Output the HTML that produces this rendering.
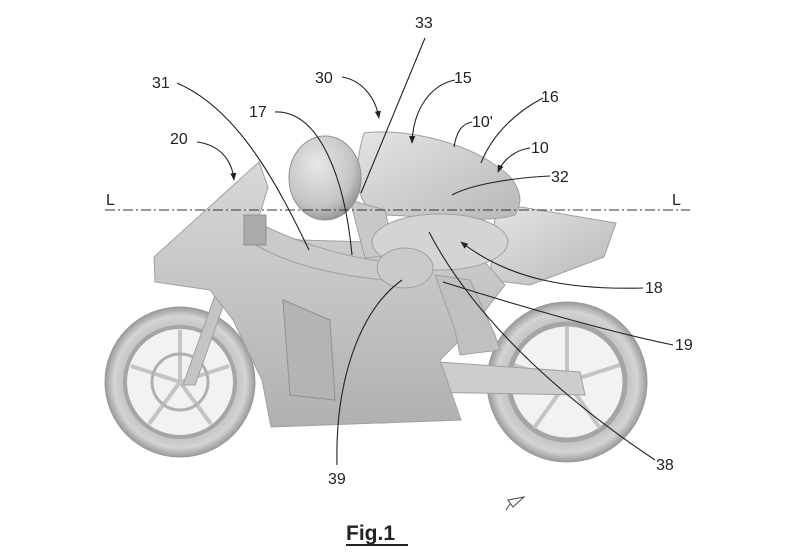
<!DOCTYPE html>
<html><head><meta charset="utf-8"><style>
html,body{margin:0;padding:0;background:#fff;}
svg{display:block;}
text{font-family:"Liberation Sans",sans-serif;font-size:16px;fill:#222;}
</style></head><body>
<svg width="800" height="560" viewBox="0 0 800 560" xmlns="http://www.w3.org/2000/svg">
<defs>
<radialGradient id="g1" cx="40%" cy="35%" r="70%"><stop offset="0" stop-color="#e8e8e8"/><stop offset="0.7" stop-color="#c4c4c4"/><stop offset="1" stop-color="#8f8f8f"/></radialGradient>
<radialGradient id="tire" cx="50%" cy="50%" r="50%"><stop offset="0.7" stop-color="#bdbdbd"/><stop offset="0.88" stop-color="#d4d4d4"/><stop offset="1" stop-color="#9a9a9a"/></radialGradient>
<linearGradient id="g2" x1="0" y1="0" x2="0" y2="1"><stop offset="0" stop-color="#d8d8d8"/><stop offset="1" stop-color="#b0b0b0"/></linearGradient>
<linearGradient id="g3" x1="0" y1="0" x2="1" y2="1"><stop offset="0" stop-color="#e4e4e4"/><stop offset="1" stop-color="#b8b8b8"/></linearGradient>
<marker id="ar" viewBox="0 0 10 10" refX="9" refY="5" markerWidth="7" markerHeight="7" orient="auto"><path d="M0,1 L10,5 L0,9 z" fill="#222"/></marker>
</defs>

<!-- wheels -->
<circle cx="180" cy="382" r="75" fill="url(#tire)" stroke="#999" stroke-width="1"/>
<circle cx="180" cy="382" r="55" fill="#f2f2f2" stroke="#a5a5a5" stroke-width="4"/>
<g stroke="#c4c4c4" stroke-width="4">
<line x1="180" y1="382" x2="180" y2="330"/><line x1="180" y1="382" x2="229" y2="366"/><line x1="180" y1="382" x2="211" y2="424"/><line x1="180" y1="382" x2="149" y2="424"/><line x1="180" y1="382" x2="131" y2="366"/>
</g>
<circle cx="180" cy="382" r="28" fill="none" stroke="#b0b0b0" stroke-width="3"/>
<circle cx="567" cy="382" r="80" fill="url(#tire)" stroke="#999" stroke-width="1"/>
<circle cx="567" cy="382" r="58" fill="#f2f2f2" stroke="#a5a5a5" stroke-width="5"/>
<g stroke="#c4c4c4" stroke-width="4">
<line x1="567" y1="382" x2="567" y2="326"/><line x1="567" y1="382" x2="620" y2="365"/><line x1="567" y1="382" x2="600" y2="428"/><line x1="567" y1="382" x2="534" y2="428"/><line x1="567" y1="382" x2="514" y2="365"/>
</g>
<!-- fork -->
<polygon points="240,225 252,225 195,385 183,385" fill="#c4c4c4" stroke="#a0a0a0"/>
<!-- swingarm -->
<polygon points="410,360 580,372 585,395 420,392" fill="#cdcdcd" stroke="#a0a0a0"/>
<!-- tail -->
<polygon points="495,215 521,207 616,223 604,257 530,285 490,280" fill="url(#g3)" stroke="#a0a0a0"/>
<!-- body -->
<path d="M154,257 L259,162 L268,187 L255,230 L300,240 L470,245 L505,285 L470,330 L440,360 L461,420 L271,427 L262,380 L233,320 L210,290 L155,282 Z" fill="url(#g2)" stroke="#a0a0a0"/>
<polygon points="283,300 330,320 335,400 290,395" fill="#b4b4b4" stroke="#909090"/>
<!-- arm -->
<path d="M254,220 C280,235 330,255 386,262 L386,280 C330,275 280,262 248,240 Z" fill="#cacaca" stroke="#a0a0a0"/>
<rect x="244" y="215" width="22" height="30" fill="#aaa" stroke="#909090"/>
<!-- torso -->
<path d="M364,133 C400,128 460,140 495,165 C520,180 525,200 515,215 C480,225 420,215 380,215 C360,210 350,180 364,133 Z" fill="url(#g3)" stroke="#a0a0a0"/>
<path d="M350,200 L385,210 L395,255 L365,258 Z" fill="#c8c8c8" stroke="#a0a0a0"/>
<!-- thigh -->
<ellipse cx="440" cy="242" rx="68" ry="28" fill="#d4d4d4" stroke="#a0a0a0"/>
<ellipse cx="405" cy="268" rx="28" ry="20" fill="#cacaca" stroke="#a0a0a0"/>
<!-- lower leg -->
<path d="M435,275 L470,280 L495,335 L500,350 L460,355 L455,330 Z" fill="#c0c0c0" stroke="#a0a0a0"/>
<!-- helmet -->
<ellipse cx="325" cy="178" rx="36" ry="42" fill="url(#g1)" stroke="#909090"/>

<!-- L line -->
<line x1="105" y1="210" x2="690" y2="210" stroke="#333" stroke-width="1" stroke-dasharray="10,3,2,3"/>
<text x="106" y="205">L</text>
<text x="672" y="205">L</text>

<!-- leaders -->
<g fill="none" stroke="#222" stroke-width="1.1">
<path d="M425,38 L361,193"/>
<path d="M177,83 C240,110 280,190 309,250"/>
<path d="M275,112 C320,110 345,180 352,255"/>
<path d="M342,77 C360,80 375,95 379,118" marker-end="url(#ar)"/>
<path d="M455,80 C430,85 413,110 412,143" marker-end="url(#ar)"/>
<path d="M472,122 C460,124 456,135 454,147"/>
<path d="M543,98 C510,115 490,140 481,163"/>
<path d="M530,148 C515,150 503,160 498,172" marker-end="url(#ar)"/>
<path d="M550,176 C510,178 470,185 452,195"/>
<path d="M197,142 C220,145 232,160 234,180" marker-end="url(#ar)"/>
<path d="M643,288 C570,290 510,280 461,242" marker-end="url(#ar)"/>
<path d="M673,345 C600,330 500,300 443,282"/>
<path d="M655,460 C580,410 480,330 429,232"/>
<path d="M337,465 C335,380 360,310 402,280"/>
</g>

<!-- labels -->
<text x="415" y="28">33</text>
<text x="152" y="88">31</text>
<text x="315" y="83">30</text>
<text x="454" y="83">15</text>
<text x="541" y="102">16</text>
<text x="472" y="127">10'</text>
<text x="531" y="153">10</text>
<text x="249" y="117">17</text>
<text x="170" y="144">20</text>
<text x="551" y="182">32</text>
<text x="645" y="293">18</text>
<text x="675" y="350">19</text>
<text x="656" y="470">38</text>
<text x="328" y="484">39</text>

<!-- small icon -->
<path d="M508,500 L524,497 L513,507 Z M510,504 L506,510" fill="none" stroke="#444" stroke-width="1"/>

<!-- Fig.1 -->
<text x="346" y="540" style="font-size:21px;font-weight:bold;fill:#222">Fig.1</text>
<line x1="346" y1="545" x2="408" y2="545" stroke="#222" stroke-width="2"/>
</svg>
</body></html>
